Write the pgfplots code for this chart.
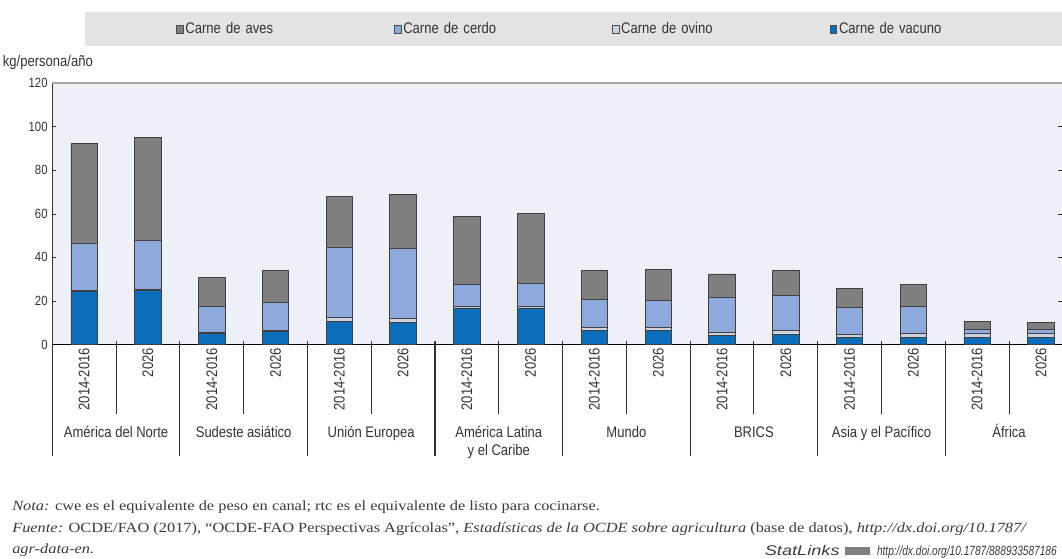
\documentclass[border=0pt]{standalone}
\usepackage{fontspec}
\setmainfont{Liberation Serif}[FakeStretch=1.17]
\newfontfamily\nar[FakeStretch=0.85]{Liberation Sans}
\newfontfamily\narr[FakeStretch=0.76]{Liberation Sans}
\newfontfamily\wide[FakeStretch=1.3]{Liberation Sans}
\usepackage{pgfplots}
\pgfplotsset{compat=1.18}
\usepackage{pgfplotstable}

\definecolor{aves}{HTML}{7F7F7F}
\definecolor{cerdo}{HTML}{8EA9DB}
\definecolor{ovino}{HTML}{CDD3DE}
\definecolor{vacuno}{HTML}{0A6EBD}
\definecolor{bg}{HTML}{EEF0F8}
\definecolor{band}{HTML}{E3E3E3}
\definecolor{txt}{HTML}{333333}
\definecolor{note}{HTML}{3A3A3A}

\tikzset{
  glab/.style={anchor=base, font=\nar\fontsize{11.5}{13.5}\selectfont, text=txt, inner sep=0pt},
  sepl/.style={txt, line width=0.8pt},
}

\pgfplotstableread{
x vac ovi cer ave
0 24.5 0.5 21.5 45.6
1 24.8 0.4 22.5 47.4
2 5.2 0.4 11.8 13.2
3 6.0 0.4 12.9 14.6
4 10.5 2.0 32.3 23.3
5 10.3 1.8 31.8 25.0
6 16.8 0.5 10.1 31.3
7 16.8 0.5 10.8 32.1
8 6.5 1.5 12.5 13.7
9 6.4 1.6 12.2 14.3
10 4.3 1.3 16.0 10.8
11 4.8 1.6 16.0 11.8
12 3.1 1.6 12.3 8.8
13 3.3 1.6 12.5 10.1
14 3.3 2.0 1.6 3.6
15 3.2 2.0 1.6 3.4
}\data

\begin{document}
\begin{tikzpicture}
\useasboundingbox (0,0) rectangle (796.5pt,-419.25pt);
\fill[band] (63.75pt,-9pt) rectangle (796.5pt,-34.5pt);
\node[anchor=base west, font=\nar\fontsize{11.5}{13}\selectfont, text=txt, inner sep=0] at (2pt,-50pt) {kg/persona/año};
\begin{axis}[
  at={(39.2pt,-258.4pt)}, anchor=south west, scale only axis,
  width=757.3pt, height=196.1pt,
  xmin=-0.5, xmax=15.33, ymin=0, ymax=120,
  ybar stacked, bar width=0.415,
  axis background/.style={fill=bg},
  axis line style={draw=none},
  ytick={0,20,...,120},
  tick align=inside, major tick length=3pt,
  y tick style={txt, thin},
  xtick={0,...,15}, x tick style={draw=none},
  xticklabels={2014-2016,2026,2014-2016,2026,2014-2016,2026,2014-2016,2026,2014-2016,2026,2014-2016,2026,2014-2016,2026,2014-2016,2026},
  xticklabel style={rotate=90, anchor=east, font=\nar\fontsize{11.5}{13}\selectfont, text=txt, inner sep=2.5pt},
  yticklabel style={font=\nar\fontsize{10}{12}\selectfont, text=txt},
  /pgf/number format/assume math mode=true,
  clip=false,
  reverse legend,
  legend columns=4,
  legend cell align=left,
  legend style={draw=none, fill=none, at={(0.1225,1.2065)}, anchor=west, inner sep=0pt,
    font=\nar\fontsize{11.5}{13}\selectfont, text=txt,
    nodes={text width=155pt, inner sep=1.5pt}},
  legend image code/.code={\draw[#1, draw=black!70, line width=0.4pt] (0pt,-2.8pt) rectangle (5pt,2.8pt);},
]
\addplot[fill=vacuno, draw=black!75, line width=0.6pt] table[x=x,y=vac]{\data};
\addplot[fill=ovino, draw=black!75, line width=0.6pt] table[x=x,y=ovi]{\data};
\addplot[fill=cerdo, draw=black!75, line width=0.6pt] table[x=x,y=cer]{\data};
\addplot[fill=aves, draw=black!75, line width=0.6pt] table[x=x,y=ave]{\data};
\legend{Carne de vacuno,Carne de ovino,Carne de cerdo,Carne de aves}

\draw[gray!70, line width=1.5pt] (rel axis cs:0,1) -- (rel axis cs:1,1);
\draw[txt, line width=0.8pt] (rel axis cs:0,0) -- (rel axis cs:0,1);
\draw[black, line width=1pt] (rel axis cs:0,0) -- (rel axis cs:1,0);

\draw[sepl] (axis cs:-0.5,0) -- ([yshift=-83.25pt]axis cs:-0.5,0);
\draw[sepl] ([yshift=3pt]axis cs:1.5,0) -- ([yshift=-83.25pt]axis cs:1.5,0);
\draw[sepl] ([yshift=3pt]axis cs:3.5,0) -- ([yshift=-83.25pt]axis cs:3.5,0);
\draw[sepl] ([yshift=3pt]axis cs:5.5,0) -- ([yshift=-83.25pt]axis cs:5.5,0);
\draw[sepl] ([yshift=3pt]axis cs:7.5,0) -- ([yshift=-83.25pt]axis cs:7.5,0);
\draw[sepl] ([yshift=3pt]axis cs:9.5,0) -- ([yshift=-83.25pt]axis cs:9.5,0);
\draw[sepl] ([yshift=3pt]axis cs:11.5,0) -- ([yshift=-83.25pt]axis cs:11.5,0);
\draw[sepl] ([yshift=3pt]axis cs:13.5,0) -- ([yshift=-83.25pt]axis cs:13.5,0);
\draw[sepl] ([yshift=3pt]axis cs:0.5,0) -- ([yshift=-51.75pt]axis cs:0.5,0);
\draw[sepl] ([yshift=3pt]axis cs:2.5,0) -- ([yshift=-51.75pt]axis cs:2.5,0);
\draw[sepl] ([yshift=3pt]axis cs:4.5,0) -- ([yshift=-51.75pt]axis cs:4.5,0);
\draw[sepl] ([yshift=3pt]axis cs:6.5,0) -- ([yshift=-51.75pt]axis cs:6.5,0);
\draw[sepl] ([yshift=3pt]axis cs:8.5,0) -- ([yshift=-51.75pt]axis cs:8.5,0);
\draw[sepl] ([yshift=3pt]axis cs:10.5,0) -- ([yshift=-51.75pt]axis cs:10.5,0);
\draw[sepl] ([yshift=3pt]axis cs:12.5,0) -- ([yshift=-51.75pt]axis cs:12.5,0);
\draw[sepl] ([yshift=3pt]axis cs:14.5,0) -- ([yshift=-51.75pt]axis cs:14.5,0);

\node[glab] at ([yshift=-69.5pt]axis cs:0.5,0) {América del Norte};
\node[glab] at ([yshift=-69.5pt]axis cs:2.5,0) {Sudeste asiático};
\node[glab] at ([yshift=-69.5pt]axis cs:4.5,0) {Unión Europea};
\node[glab] at ([yshift=-69.5pt]axis cs:6.5,0) {América Latina};
\node[glab] at ([yshift=-83pt]axis cs:6.5,0) {y el Caribe};
\node[glab] at ([yshift=-69.5pt]axis cs:8.5,0) {Mundo};
\node[glab] at ([yshift=-69.5pt]axis cs:10.5,0) {BRICS};
\node[glab] at ([yshift=-69.5pt]axis cs:12.5,0) {Asia y el Pacífico};
\node[glab] at ([yshift=-69.5pt]axis cs:14.5,0) {África};
\end{axis}

\node[anchor=base west, inner sep=0pt, text=note, font=\fontsize{10.5}{12}\selectfont] at (9pt,-382.5pt) {\textit{Nota:} cwe es el equivalente de peso en canal; rtc es el equivalente de listo para cocinarse.};
\node[anchor=base west, inner sep=0pt, text=note, font=\fontsize{10.5}{12}\selectfont] at (9pt,-399pt) {\textit{Fuente:} OCDE/FAO (2017), “OCDE-FAO Perspectivas Agrícolas”, \textit{Estadísticas de la OCDE sobre agricultura} (base de datos), \textit{http://dx.doi.org/10.1787/}};
\node[anchor=base west, inner sep=0pt, text=note, font=\fontsize{10.5}{12}\selectfont] at (9pt,-414.75pt) {\textit{agr-data-en.}};
\node[anchor=base east, inner sep=0pt, text=note] at (792.75pt,-416.25pt) {{\wide\itshape\fontsize{10.5}{12}\selectfont StatLinks}\hspace{4pt}\textcolor{gray}{\rule{19pt}{6pt}}\hspace{5pt}{\narr\itshape\fontsize{10}{12}\selectfont http://dx.doi.org/10.1787/888933587186}};
\end{tikzpicture}
\end{document}
